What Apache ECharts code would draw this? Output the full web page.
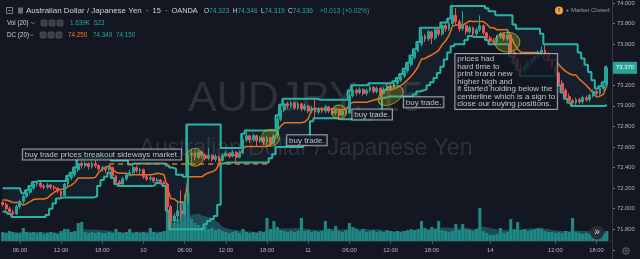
<!DOCTYPE html>
<html><head><meta charset="utf-8">
<script src="https://cdn.jsdelivr.net/npm/echarts@6/dist/echarts.min.js"></script>
<style>html,body{margin:0;padding:0;background:#131722;}#c{width:640px;height:259px;}</style>
</head><body><div id="c"></div>
<script>
// 30-minute bars (each = two 15-min bars of the reference)
const opens = [
72.06,72.04,72.00,71.97,71.95,72.02,72.07,72.12,72.16,72.20,
72.24,72.25,72.22,72.21,72.23,72.21,72.20,72.17,72.13,72.24,
72.30,72.33,72.38,72.44,72.42,72.44,72.41,72.44,72.42,72.39,
72.40,72.38,72.40,72.32,72.26,72.24,72.29,72.33,72.35,72.40,
72.37,72.38,72.31,72.29,72.30,72.27,72.28,72.26,72.24,72.02,
71.88,71.93,71.98,71.95,72.07,72.52,72.54,72.50,72.55,72.52,
72.49,72.52,72.48,72.51,72.47,72.52,72.54,72.51,72.55,72.50,
72.54,72.67,72.71,72.67,72.71,72.66,72.69,72.65,72.69,72.64,
72.71,72.87,72.96,73.02,73.00,73.03,72.98,73.02,72.97,73.00,
72.95,72.98,72.94,72.97,72.95,72.99,72.95,72.93,72.96,72.91,
72.95,72.93,73.10,73.15,73.13,73.16,73.12,73.15,73.18,73.14,
73.17,73.12,73.16,73.19,73.17,73.22,73.25,73.29,73.34,73.40,
73.47,73.53,73.60,73.68,73.65,73.72,73.66,73.74,73.70,73.78,
73.75,73.80,73.88,73.82,73.75,73.78,73.72,73.76,73.70,73.74,
73.78,73.71,73.66,73.63,73.62,73.67,73.70,73.65,73.69,73.52,
73.45,73.38,73.34,73.38,73.42,73.45,73.48,73.52,73.54,73.50,
73.44,73.38,73.32,73.22,73.15,73.09,73.05,73.03,73.06,73.04,
73.08,73.06,73.10,73.14,73.12,73.17,73.20];
const closes = [
72.04,72.00,71.97,71.95,72.02,72.07,72.12,72.16,72.20,72.24,
72.25,72.22,72.21,72.23,72.21,72.20,72.17,72.13,72.24,72.30,
72.33,72.38,72.44,72.42,72.44,72.41,72.44,72.42,72.39,72.40,
72.38,72.40,72.32,72.26,72.24,72.29,72.33,72.35,72.40,72.37,
72.38,72.31,72.29,72.30,72.27,72.28,72.26,72.24,72.02,71.88,
71.93,71.98,71.95,72.07,72.52,72.54,72.50,72.55,72.52,72.49,
72.52,72.48,72.51,72.47,72.52,72.54,72.51,72.55,72.50,72.54,
72.67,72.71,72.67,72.71,72.66,72.69,72.65,72.69,72.64,72.71,
72.87,72.96,73.02,73.00,73.03,72.98,73.02,72.97,73.00,72.95,
72.98,72.94,72.97,72.95,72.99,72.95,72.93,72.96,72.91,72.95,
72.93,73.10,73.15,73.13,73.16,73.12,73.15,73.18,73.14,73.17,
73.12,73.16,73.19,73.17,73.22,73.25,73.29,73.34,73.40,73.47,
73.53,73.60,73.68,73.65,73.72,73.66,73.74,73.70,73.78,73.75,
73.80,73.88,73.82,73.75,73.78,73.72,73.76,73.70,73.74,73.78,
73.71,73.66,73.63,73.62,73.67,73.70,73.65,73.69,73.52,73.45,
73.38,73.34,73.38,73.42,73.45,73.48,73.52,73.54,73.50,73.44,
73.38,73.32,73.22,73.15,73.09,73.05,73.03,73.06,73.04,73.08,
73.06,73.10,73.14,73.12,73.17,73.20,73.37];
const highs = [
72.08,72.06,72.02,71.99,72.04,72.09,72.14,72.18,72.22,72.26,
72.27,72.26,72.24,72.25,72.24,72.23,72.21,72.18,72.25,72.32,
72.35,72.40,72.49,72.46,72.46,72.45,72.46,72.47,72.43,72.42,
72.42,72.42,72.41,72.33,72.28,72.31,72.35,72.38,72.44,72.42,
72.40,72.39,72.33,72.33,72.31,72.30,72.29,72.27,72.25,72.04,
71.96,72.08,72.18,72.14,72.82,72.58,72.56,72.57,72.56,72.54,
72.59,72.53,72.53,72.52,72.54,72.56,72.55,72.57,72.56,72.56,
72.73,72.76,72.72,72.73,72.72,72.71,72.70,72.71,72.70,72.73,
72.91,73.01,73.07,73.04,73.05,73.04,73.04,73.03,73.02,73.01,
73.00,73.06,72.99,72.99,73.01,73.00,72.97,72.98,72.97,72.97,
72.97,73.15,73.20,73.17,73.18,73.17,73.17,73.22,73.19,73.19,
73.18,73.18,73.21,73.21,73.24,73.27,73.31,73.36,73.42,73.49,
73.55,73.62,73.76,73.70,73.74,73.73,73.76,73.76,73.81,73.80,
73.85,73.97,73.95,73.84,73.92,73.79,73.78,73.77,73.76,73.88,
73.79,73.72,73.68,73.66,73.69,73.72,73.71,73.75,73.70,73.54,
73.47,73.41,73.40,73.44,73.47,73.50,73.54,73.58,73.60,73.52,
73.46,73.40,73.33,73.25,73.17,73.12,73.07,73.08,73.08,73.10,
73.10,73.12,73.16,73.16,73.19,73.23,73.38];
const lows = [
72.02,71.98,71.95,71.92,71.94,72.00,72.05,72.10,72.14,72.18,
72.22,72.20,72.19,72.19,72.19,72.18,72.15,72.11,72.12,72.22,
72.28,72.31,72.36,72.39,72.40,72.38,72.39,72.40,72.37,72.36,
72.35,72.36,72.30,72.24,72.22,72.23,72.27,72.31,72.33,72.35,
72.34,72.29,72.27,72.27,72.25,72.25,72.24,72.22,71.98,71.80,
71.85,71.88,71.90,71.93,72.04,72.44,72.47,72.48,72.49,72.47,
72.47,72.46,72.46,72.45,72.46,72.50,72.49,72.50,72.45,72.49,
72.53,72.65,72.64,72.65,72.60,72.64,72.62,72.63,72.60,72.62,
72.68,72.85,72.94,72.97,72.98,72.96,72.96,72.95,72.95,72.93,
72.93,72.88,72.92,72.93,72.93,72.93,72.91,72.91,72.87,72.89,
72.91,72.92,73.08,73.10,73.11,73.10,73.10,73.13,73.12,73.12,
73.09,73.11,73.14,73.15,73.16,73.20,73.23,73.27,73.32,73.38,
73.45,73.52,73.58,73.62,73.63,73.60,73.64,73.68,73.68,73.72,
73.73,73.78,73.79,73.72,73.73,73.69,73.70,73.67,73.68,73.72,
73.69,73.64,73.60,73.60,73.61,73.65,73.63,73.63,73.48,73.42,
73.35,73.29,73.32,73.36,73.40,73.43,73.46,73.50,73.48,73.42,
73.36,73.30,73.20,73.13,73.07,73.03,73.00,73.01,73.02,73.02,
73.04,73.04,73.08,73.10,73.10,73.15,73.18];
const volumes = [
9,8,10,9,8,8,13,9,8,9,
8,9,7,8,9,8,7,10,12,12,
9,10,18,19,9,8,9,8,9,8,
8,9,8,12,9,8,9,12,8,9,
8,9,8,13,9,8,9,10,30,26,
18,22,40,34,48,22,18,16,14,15,
12,13,11,12,10,9,8,9,10,8,
12,9,8,9,8,10,9,23,12,20,
14,11,10,9,10,9,10,23,10,11,
9,10,9,10,20,12,10,15,10,9,
11,18,14,12,10,12,9,10,11,9,
10,9,11,10,9,10,9,10,11,12,
11,12,20,13,11,14,12,20,11,10,
9,10,17,11,17,12,11,10,12,33,
10,8,6,6,7,13,8,9,22,12,
19,11,12,10,11,12,13,12,10,9,
9,8,9,8,10,9,23,9,8,7,
8,7,8,9,8,7,10];
// bars before the visible window (needed by the 20 x 15-min Donchian channel)
const priorHighs = [72.08,72.10,72.12,72.14,72.16,72.20,72.15,72.11,72.08];
const priorLows  = [71.99,72.01,72.03,72.05,72.02,71.99,71.97,71.99,72.02];
const dcPeriod = 10;
const volMaPeriod = 10;
const extraSlots = 1;
const tickIndex = [5,17,29,41,53,65,77,89,101,113,125,142,161,173];
const tickText = ['06:00','12:00','18:00','10','06:00','12:00','18:00','11','06:00','12:00','18:00','14','12:00','18:00'];
const levelPrice = 72.44, levelFrom = 31, levelTo = 78;
const lastPrice = 73.37;
const circleIdx = [56, 78, 98, 113, 147];
const circlePrice = [72.50, 72.69, 72.94, 73.10, 73.62];
const circleW = [17, 18, 15, 27, 25];
const circleH = [18, 17, 14, 17, 20];
const circleRot = [0, 0, 0, 30, 0];
const noteIdx = [6, 83, 102, 117, 132];
const notePrice = [72.57, 72.71, 72.96, 73.08, 73.50];
const noteText = [
 'buy trade prices breakout sideways market.',
 'buy trade.', 'buy trade.', 'buy trade.',
 'prices had\nhard time to\nprint brand new\nhigher high and\nit started holding below the\ncenterline which is a sign to\nclose our buying positions.'];

const n = closes.length;
const cats = [];
for (let i = 0; i < n + extraSlots; i++) cats.push(String(i));
const histH = priorHighs.concat(highs), histL = priorLows.concat(lows), pad = priorHighs.length;
const dcUpper = [], dcLower = [], dcMid = [], dcBand = [];
for (let i = 0; i < n; i++) {
  let hi = -Infinity, lo = Infinity;
  for (let k = Math.max(0, i + pad - dcPeriod + 1); k <= i + pad; k++) { hi = Math.max(hi, histH[k]); lo = Math.min(lo, histL[k]); }
  dcUpper.push(hi); dcLower.push(lo); dcMid.push((hi + lo) / 2); dcBand.push(+(hi - lo).toFixed(4));
}
const volMa = [];
for (let i = 0; i < n; i++) {
  let s = 0, c = 0;
  for (let k = Math.max(0, i - volMaPeriod + 1); k <= i; k++) { s += volumes[k]; c++; }
  volMa.push(s / c);
}
const candles = opens.map((o, i) => [o, closes[i], lows[i], highs[i]]);

const UP = '#26a69a', DN = '#ef5350', CH = '#27b5a3', MID = '#e8711a';
const TXT = '#d1d4dc', AX = '#b2b5be', CLEAR = 'rgba(0,0,0,0)';
const chart = echarts.init(document.getElementById('c'), null, {renderer: 'canvas'});

function box(x, y) {
  return {type: 'rect', shape: {x: x, y: y, width: 6, height: 6, r: 1}, style: {fill: '#3a3d47', stroke: '#5d606b', lineWidth: 0.6}, z: 100};
}
const WM = 'rgba(120,123,134,0.27)';
const gfx = [
  {type: 'text', x: 306, y: 99.5, style: {text: 'AUDJPY, 15', font: '43px Arial, "Liberation Sans", sans-serif', fill: WM, textAlign: 'center', textVerticalAlign: 'middle'}, z: -5},
  {type: 'text', x: 306, y: 149, style: {text: 'Australian Dollar / Japanese Yen', font: '23px Arial, "Liberation Sans", sans-serif', fill: WM, textAlign: 'center', textVerticalAlign: 'middle'}, z: -5},
  // legend row 1
  {type: 'rect', shape: {x: 6.5, y: 7.5, width: 6, height: 6}, style: {fill: 'none', stroke: '#9598a1', lineWidth: 0.8}, z: 100},
  {type: 'line', shape: {x1: 8, y1: 10.5, x2: 11, y2: 10.5}, style: {stroke: '#9598a1', lineWidth: 0.8}, z: 100},
  {type: 'rect', shape: {x: 18, y: 7.5, width: 5, height: 6}, style: {fill: '#6a6d78'}, z: 100},
  {type: 'text', x: 26, y: 11, style: {text: 'Australian Dollar / Japanese Yen', font: '8px Arial, sans-serif', fill: TXT, textVerticalAlign: 'middle'}, z: 100},
  {type: 'text', x: 146, y: 11, style: {text: '·  15  ·  OANDA', font: '7.4px Arial, sans-serif', fill: TXT, textVerticalAlign: 'middle'}, z: 100},
  {type: 'polyline', shape: {points: [[191, 9.5], [193, 11.5], [195, 9.5]]}, style: {stroke: '#9598a1', lineWidth: 0.8, fill: 'none'}, z: 100},
  {type: 'text', x: 204, y: 11, style: {text: '{w|O}{g|74.323} {w|H}{g|74.346} {w|L}{g|74.319} {w|C}{g|74.336}', rich: {w: {fill: TXT, font: '6.6px Arial, sans-serif'}, g: {fill: UP, font: '6.6px Arial, sans-serif'}}, textVerticalAlign: 'middle'}, z: 100},
  {type: 'text', x: 320, y: 11, style: {text: '+0.013 (+0.02%)', font: '6.6px Arial, sans-serif', fill: UP, textVerticalAlign: 'middle'}, z: 100},
  // legend row 2
  {type: 'text', x: 7, y: 23, style: {text: 'Vol (20)', font: '6.3px Arial, sans-serif', fill: TXT, textVerticalAlign: 'middle'}, z: 100},
  {type: 'polyline', shape: {points: [[31, 22], [32.8, 24], [34.6, 22]]}, style: {stroke: '#9598a1', lineWidth: 0.7, fill: 'none'}, z: 100},
  box(41, 20), box(49, 20), box(57, 20),
  {type: 'text', x: 70, y: 23, style: {text: '1.639K', font: '6.3px Arial, sans-serif', fill: UP, textVerticalAlign: 'middle'}, z: 100},
  {type: 'text', x: 94, y: 23, style: {text: '523', font: '6.3px Arial, sans-serif', fill: UP, textVerticalAlign: 'middle'}, z: 100},
  // legend row 3
  {type: 'text', x: 7, y: 35, style: {text: 'DC (20)', font: '6.3px Arial, sans-serif', fill: TXT, textVerticalAlign: 'middle'}, z: 100},
  {type: 'polyline', shape: {points: [[30, 34], [31.8, 36], [33.6, 34]]}, style: {stroke: '#9598a1', lineWidth: 0.7, fill: 'none'}, z: 100},
  box(40, 32), box(48, 32), box(56, 32),
  {type: 'text', x: 68, y: 35, style: {text: '74.250', font: '6.3px Arial, sans-serif', fill: '#f57c1f', textVerticalAlign: 'middle'}, z: 100},
  {type: 'text', x: 93, y: 35, style: {text: '74.349', font: '6.3px Arial, sans-serif', fill: UP, textVerticalAlign: 'middle'}, z: 100},
  {type: 'text', x: 116, y: 35, style: {text: '74.150', font: '6.3px Arial, sans-serif', fill: UP, textVerticalAlign: 'middle'}, z: 100},
  // market closed
  {type: 'circle', shape: {cx: 559, cy: 10.5, r: 4}, style: {fill: '#f5a03a'}, z: 100},
  {type: 'text', x: 559, y: 10.7, style: {text: '!', font: 'bold 6px Arial, sans-serif', fill: '#131722', textAlign: 'center', textVerticalAlign: 'middle'}, z: 101},
  {type: 'circle', shape: {cx: 567.5, cy: 10.5, r: 1}, style: {fill: '#9598a1'}, z: 100},
  {type: 'text', x: 571, y: 10.7, style: {text: 'Market Closed', font: '6px Arial, sans-serif', fill: '#9598a1', textVerticalAlign: 'middle'}, z: 100},
  // price-axis separator, scroll button, gear
  {type: 'line', shape: {x1: 612.5, y1: 0, x2: 612.5, y2: 259}, style: {stroke: '#363a45', lineWidth: 1}, z: 50},
  {type: 'circle', shape: {cx: 597, cy: 232.5, r: 7}, style: {fill: '#2a2e39'}, z: 100},
  {type: 'text', x: 597, y: 232, style: {text: '»', font: '10px Arial, sans-serif', fill: TXT, textAlign: 'center', textVerticalAlign: 'middle'}, z: 101},
  {type: 'circle', shape: {cx: 626, cy: 251, r: 3.2}, style: {fill: 'none', stroke: '#787b86', lineWidth: 0.9}, z: 100},
  {type: 'circle', shape: {cx: 626, cy: 251, r: 1.2}, style: {fill: 'none', stroke: '#787b86', lineWidth: 0.7}, z: 100}
];

const showTick = (idx) => tickIndex.indexOf(idx) >= 0;
chart.setOption({
  backgroundColor: '#131722',
  animation: false,
  graphic: gfx,
  grid: [
    {left: 1, right: 28, top: 2.7, height: 247.2},
    {left: 1, right: 28, top: 141, height: 100}
  ],
  xAxis: [
    {type: 'category', gridIndex: 0, data: cats, boundaryGap: true, show: false},
    {type: 'category', gridIndex: 1, data: cats, boundaryGap: true,
     axisLine: {show: true, lineStyle: {color: '#2a2e39'}},
     axisTick: {show: true, interval: showTick, alignWithLabel: true, length: 3, lineStyle: {color: '#50535e'}},
     axisLabel: {interval: showTick, formatter: (v, idx) => tickText[tickIndex.indexOf(idx)], color: AX, fontSize: 5.8, margin: 6, fontFamily: 'Arial'},
     splitLine: {show: false}}
  ],
  yAxis: [
    {type: 'value', gridIndex: 0, position: 'right', min: 71.6, max: 74.0, interval: 0.2,
     axisLine: {show: false}, splitLine: {show: false},
     axisTick: {show: true, length: 3, lineStyle: {color: '#787b86'}},
     axisLabel: {color: AX, fontSize: 5.8, margin: 5, fontFamily: 'Arial',
       formatter: (v) => (v < 71.7) ? '' : v.toFixed(3)}},
    {type: 'value', gridIndex: 1, min: 0, max: 100, show: false}
  ],
  series: [
    {name: 'VolMA', type: 'line', xAxisIndex: 1, yAxisIndex: 1, data: volMa, symbol: 'none',
     lineStyle: {width: 0}, areaStyle: {color: '#1c4d56', opacity: 1}, z: 1},
    {name: 'Vol', type: 'bar', xAxisIndex: 1, yAxisIndex: 1, data: volumes, barCategoryGap: '10%',
     itemStyle: {color: '#1f8884'}, z: 1.5},
    {name: 'dcBase', type: 'line', data: dcLower, stack: 'dc', step: 'middle', symbol: 'none', lineStyle: {width: 0}, z: 2},
    {name: 'dcBand', type: 'line', data: dcBand, stack: 'dc', step: 'middle', symbol: 'none', lineStyle: {width: 0},
     areaStyle: {color: 'rgba(40,95,115,0.2)'}, z: 2},
    {name: 'Upper', type: 'line', data: dcUpper, step: 'middle', symbol: 'none', lineStyle: {color: CH, width: 2}, z: 3},
    {name: 'Lower', type: 'line', data: dcLower, step: 'middle', symbol: 'none', lineStyle: {color: CH, width: 2}, z: 3},
    {name: 'Basis', type: 'line', data: dcMid, symbol: 'none', lineStyle: {color: MID, width: 1.5}, z: 3},
    {name: 'AUDJPY', type: 'candlestick', data: candles, barWidth: '68%', z: 4,
     itemStyle: {color: UP, color0: DN, borderColor: UP, borderColor0: DN, borderWidth: 1},
     markLine: {symbol: 'none', silent: true, animation: false,
       data: [
         [{coord: [String(levelFrom), levelPrice]}, {coord: [String(levelTo), levelPrice]}],
         {yAxis: lastPrice, lineStyle: {color: CLEAR, width: 0.01},
          label: {show: true, position: 'end', distance: 1, formatter: (p) => p.value.toFixed(3), color: '#ffffff', backgroundColor: UP, fontSize: 5.9, padding: [3, 3, 3, 3], fontFamily: 'Arial'}}
       ],
       lineStyle: {color: MID, type: [5, 4], width: 1.5},
       label: {show: false}}},
    {name: 'circles', type: 'scatter', z: 5,
     data: circleIdx.map((x, i) => ({value: [x, circlePrice[i]], symbolSize: [circleW[i], circleH[i]], symbolRotate: circleRot[i]})),
     symbol: 'circle',
     itemStyle: {color: 'rgba(170,165,35,0.38)', borderColor: '#b8b22e', borderWidth: 1}},
    {name: 'notes', type: 'scatter', z: 6, symbolSize: 1, itemStyle: {color: CLEAR},
     data: noteIdx.map((x, i) => ({value: [x, notePrice[i]]})),
     label: {show: true, position: [0, 0], formatter: (p) => noteText[p.dataIndex],
       color: '#e6e8ee', fontSize: 8, lineHeight: 7.5, fontFamily: 'Arial',
       backgroundColor: '#131722', borderColor: '#c3c6ce', borderWidth: 1, padding: [1.5, 2, 1, 2]}}
  ]
});
</script></body></html>
